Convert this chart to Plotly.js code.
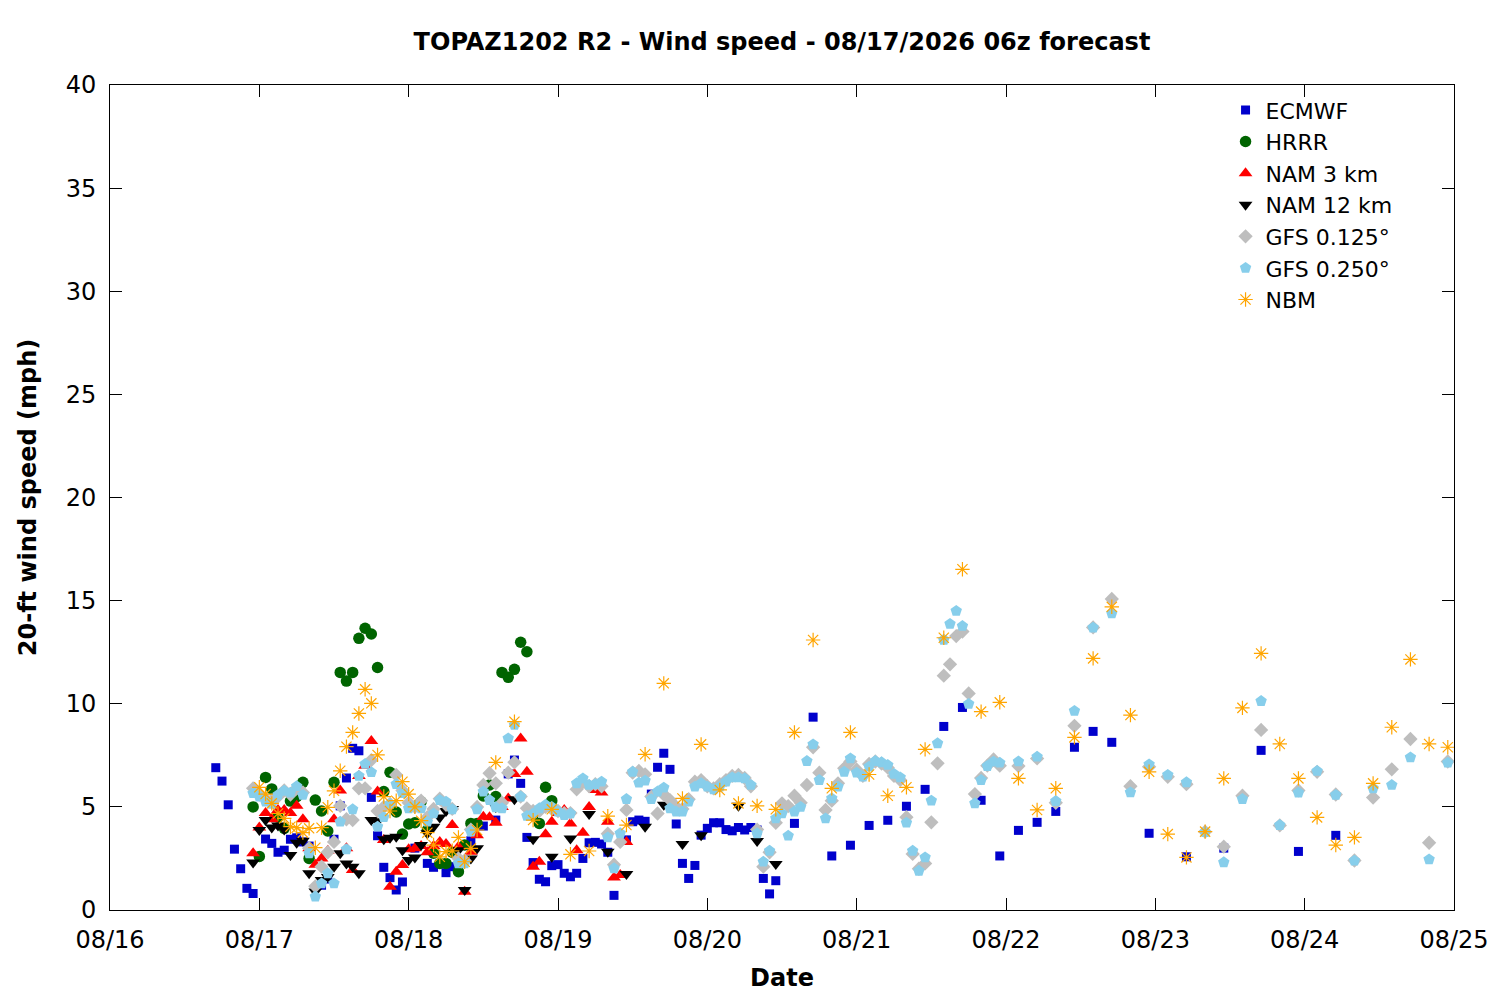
<!DOCTYPE html>
<html>
<head>
<meta charset="utf-8">
<script src="https://cdn.plot.ly/plotly-3.0.1.min.js"></script>
<style>
    body { margin: 0; background: #ffffff; }
    #plot { width: 1500px; height: 1000px; }
</style>
</head>
<body>
<div id="plot"></div>
<script>
// hours are counted from 08/16 00:00 (local), values in mph
const ecmwfHours = [
    17,18,19,20,21,22,23,25,26,27,28,29,30,31,32,34,35,36,37,38,39,40,
    42,43,44,45,46,47,49,51,52,54,55,58,60,62,
    64,65,66,67,68,69,70,71,72,73,74,75,76,77,78,79,80,81,
    83,84,85,86,87,88,89,90,91,92,93,94,95,96,97,98,99,100,101,102,103,104,105,106,107,
    110,113,116,119,122,125,128,131,134,137,140,143,146,149,152,155,158,161,
    167,173,179,185,191,197
];
const ecmwfSpeed = [
    6.9,6.25,5.1,2.95,2.0,1.05,0.8,3.44,3.23,2.8,2.9,3.43,3.5,3.3,3.1,1.2,1.5,3.43,5.05,6.4,7.84,7.72,
    5.46,3.6,2.07,1.57,0.97,1.36,3.0,2.26,2.07,1.81,2.1,3.36,4.07,4.36,
    6.6,7.27,6.14,3.52,2.3,1.49,1.37,2.15,2.2,1.78,1.61,1.78,2.5,3.26,3.28,3.2,2.8,0.71,
    3.4,4.28,4.36,4.3,5.62,6.92,7.6,6.82,4.17,2.26,1.53,2.16,3.63,3.96,4.23,4.23,3.9,3.84,4.0,3.88,4.0,3.88,1.53,0.78,1.42,
    4.2,9.35,2.62,3.14,4.1,4.35,5.03,5.85,8.9,9.82,5.32,2.62,3.86,4.25,4.78,7.89,8.66,8.13,
    3.72,2.58,3.0,7.74,2.84,3.62
];

const hrrrHours = [
    23,24,25,26,27,28,29,30,31,32,33,34,35,36,37,38,39,40,41,42,43,44,45,46,47,
    48,49,50,51,52,53,54,55,56,57,58,59,60,61,62,63,64,65,66,67,68,69,70,71
];
const hrrrSpeed = [
    5.0,2.6,6.43,5.87,4.5,3.96,5.28,5.5,6.19,2.5,5.33,4.8,3.83,6.19,11.52,11.1,11.52,13.17,13.66,13.38,11.76,5.74,6.68,4.75,3.68,
    4.17,4.23,5.25,3.88,2.75,2.26,2.26,2.8,1.86,3.15,4.2,4.2,5.53,6.06,5.5,11.52,11.28,11.67,12.98,12.52,4.6,4.2,5.95,5.3
];

const nam3Hours = [
    23,24,25,26,27,28,29,30,31,32,33,34,35,36,37,38,39,40,41,42,43,44,45,46,47,48,49,50,51,52,53,
    54,55,56,57,58,59,60,61,62,63,64,65,66,67,68,69,70,71,72,73,74,75,76,77,78,79,80,81,82,83
];
const nam3Speed = [
    2.75,4.0,4.7,4.4,4.85,4.85,4.7,5.05,4.4,3.0,2.2,2.5,2.87,4.4,5.8,3.0,1.94,6.5,7.0,8.2,5.74,3.4,1.13,1.86,2.18,2.94,3.0,3.1,2.8,3.1,3.3,
    3.2,4.12,3.07,0.89,2.82,3.63,4.52,4.5,4.23,5.0,5.41,6.6,8.32,6.7,2.1,2.34,3.67,4.28,4.7,4.85,4.2,2.9,3.75,5.0,5.82,5.7,4.28,1.58,1.7,3.3
];

const nam12Hours = [
    23,24,25,26,27,28,29,30,31,32,33,34,35,36,37,38,39,40,
    42,43,44,45,46,47,48,49,50,51,52,53,54,55,56,57,58,59,
    62,65,68,71,74,77,80,83,86,89,92,95,98,101,104,107
];
const nam12Speed = [
    2.3,3.88,4.36,4.0,4.1,3.9,2.67,3.26,3.36,1.78,0.9,1.45,1.6,2.1,2.75,2.26,2.1,1.78,
    4.36,4.3,3.43,3.5,3.55,2.9,2.42,2.55,3.15,3.72,4.04,4.49,4.8,4.9,2.9,0.97,2.5,3.0,
    5.0,5.37,3.43,2.58,3.47,4.65,2.83,1.75,4.04,5.1,3.2,3.63,6.0,5.05,3.35,2.23
];

const gfsHours = [
    23,24,25,26,27,28,29,30,31,32,33,34,35,36,37,38,39,40,41,42,
    43,44,45,46,47,48,49,50,51,52,53,54,55,56,57,58,59,60,61,62,
    63,64,65,66,67,68,69,70,71,72,73,74,75,76,77,78,79,80,81,82,
    83,84,85,86,87,88,89,90,91,92,93,94,95,96,97,98,99,100,101,102,
    103,104,105,106,107,108,109,110,111,112,113,114,115,116,117,118,119,120,121,122,
    123,124,125,126,127,128,129,130,131,132,133,134,135,136,137,138,139,140,141,142,143,
    146,149,152,155,158,161,164,167,170,173,176,179,182,185,188,191,194,197,200,203,206,209,212,215
];
const gfs0125Speed = [
    5.9,5.6,5.4,5.3,5.5,5.8,5.6,5.9,5.7,3.0,1.15,2.1,2.8,3.3,5.05,4.4,4.36,5.9,5.9,7.27,
    4.8,5.0,5.14,6.55,5.8,5.2,5.0,5.3,4.5,4.9,5.4,5.1,4.9,2.5,2.4,3.9,5.0,6.06,6.63,6.14,
    5.2,6.66,7.16,5.5,4.93,4.8,4.8,5.0,4.9,4.8,4.7,4.7,5.85,6.2,6.0,6.1,6.0,3.7,2.2,3.3,
    4.85,6.66,6.74,6.58,5.5,4.68,5.6,5.33,5.0,4.9,5.37,6.22,6.3,6.0,5.9,6.1,6.3,6.5,6.55,6.4,
    6.0,3.9,2.1,2.8,4.23,5.17,5.04,5.54,5.2,6.06,7.89,6.66,4.85,5.3,6.14,6.87,7.2,6.8,6.5,7.08,
    7.2,7.1,6.9,6.5,6.3,4.5,2.72,2.0,2.26,4.25,7.11,11.36,11.91,13.28,13.5,10.5,5.62,6.4,7.0,7.3,7.0,
    6.98,7.35,5.2,8.93,13.7,15.08,6.0,6.95,6.46,6.1,3.8,3.07,5.54,8.73,4.1,5.8,6.7,5.6,2.4,5.45,6.82,8.29,3.26,7.2
];
const gfs0250Speed = [
    5.66,5.5,5.25,5.14,5.58,5.78,5.69,6.0,5.58,2.75,0.65,1.29,1.78,1.29,4.28,2.94,4.88,6.5,7.08,6.68,
    4.04,4.5,5.14,6.1,5.66,4.93,5.04,4.93,4.28,4.68,5.33,5.25,4.88,2.26,2.26,3.8,4.88,5.74,5.33,4.98,
    4.93,8.32,8.97,5.5,4.56,4.68,4.93,5.1,5.0,4.77,4.6,4.68,6.14,6.38,6.06,6.1,6.22,3.52,2.02,3.72,
    5.38,6.7,6.17,6.27,5.37,5.74,5.93,4.93,4.77,4.77,5.25,5.98,6.14,5.98,5.85,5.98,6.22,6.43,6.43,6.38,
    6.06,3.72,2.34,2.87,4.44,4.68,3.6,4.77,5.0,7.22,8.03,6.3,4.44,5.41,5.98,6.7,7.35,6.66,6.46,6.95,
    7.22,7.16,7.03,6.6,6.43,4.23,2.87,1.9,2.55,5.3,8.08,13.1,13.87,14.5,13.77,9.99,5.17,6.3,6.98,7.19,7.14,
    7.2,7.43,5.28,9.65,13.69,14.38,5.7,7.06,6.55,6.19,3.77,2.31,5.38,10.13,4.12,5.69,6.74,5.58,2.39,5.9,6.06,7.4,2.45,7.14
];

const nbmHours = [
    24,25,26,27,28,29,30,31,32,33,34,35,36,37,38,39,40,41,
    42,43,44,45,46,47,48,49,50,51,52,53,54,55,56,57,58,59,
    62,65,68,71,74,77,80,83,86,89,92,95,98,101,104,107,110,113,
    116,119,122,125,128,131,134,137,140,143,146,149,152,155,158,161,164,167,
    170,173,176,179,182,185,188,191,194,197,200,203,206,209,212,215
];
const nbmSpeed = [
    5.95,5.62,5.17,4.68,4.44,4.04,3.99,3.75,3.96,3.02,3.99,4.98,5.78,6.75,7.92,8.61,9.53,10.7,
    10.02,7.52,5.5,4.8,5.3,6.22,5.62,5.0,4.33,3.75,3.15,2.58,2.83,2.87,3.52,2.34,2.99,3.88,
    7.16,9.13,4.36,4.88,2.7,2.86,4.55,4.12,7.55,10.99,5.41,8.03,5.82,5.17,5.05,4.88,8.61,13.09,
    5.9,8.61,6.57,5.54,5.95,7.79,13.2,16.52,9.62,10.07,6.38,4.85,5.9,8.37,12.2,14.7,9.45,6.7,
    3.68,2.55,3.8,6.38,9.8,12.44,8.05,6.38,4.49,3.15,3.52,6.14,8.86,12.15,8.05,7.89
];

const chartTitle = "TOPAZ1202 R2 - Wind speed - 08/17/2026 06z forecast";
const xLabel = "Date";
const yLabel = "20-ft wind speed (mph)";

const baseTime = Date.UTC(2026, 7, 16, 0, 0, 0);

function toDate(h){
    return new Date(baseTime + h*3600*1000)
        .toISOString()
        .slice(0,19)
        .replace("T"," ");
}

function series(name, hours, speed, symbol, color, size, extra){

    const marker = {
        symbol: symbol,
        color: color,
        size: size,
        line: {width: 0}
    };

    Object.assign(marker, extra || {});

    return {
        type: "scatter",
        mode: "markers",
        name: name,
        x: hours.map(toDate),
        y: speed,
        marker: marker
    };
}

const traces = [
    series("ECMWF", ecmwfHours, ecmwfSpeed, "square", "#0000cc", 9),
    series("HRRR", hrrrHours, hrrrSpeed, "circle", "#006400", 11.5),
    series("NAM 3 km", nam3Hours, nam3Speed, "triangle-up", "#ff0000", 12),
    series("NAM 12 km", nam12Hours, nam12Speed, "triangle-down", "#000000", 12),
    series("GFS 0.125°", gfsHours, gfs0125Speed, "diamond", "#bebebe", 11),
    series("GFS 0.250°", gfsHours, gfs0250Speed, "pentagon", "#87ceeb", 12),
    series("NBM", nbmHours, nbmSpeed, "asterisk-open", "#ffa500", 12,
        {line: {width: 1.2, color: "#ffa500"}})
];

const axisStyle = {
    showline: true,
    linecolor: "#000000",
    linewidth: 1,
    mirror: "ticks",
    ticks: "inside",
    ticklen: 12,
    tickwidth: 1,
    tickcolor: "#000000",
    showgrid: false,
    zeroline: false,
    tickfont: {size: 24, color: "#000000"}
};

const layout = {
    width: 1500,
    height: 1000,
    paper_bgcolor: "#ffffff",
    plot_bgcolor: "#ffffff",
    font: {family: "DejaVu Sans", color: "#000000"},
    margin: {l: 110, r: 46, t: 85, b: 90},
    showlegend: true,
    title: {
        text: "<b>" + chartTitle + "</b>",
        font: {size: 24},
        x: 0.5,
        xref: "paper",
        xanchor: "center",
        y: 0.958,
        yref: "container",
        yanchor: "middle"
    },
    xaxis: Object.assign({}, axisStyle, {
        type: "date",
        range: [toDate(0), toDate(216)],
        dtick: 86400000,
        tick0: toDate(0),
        tickformat: "%m/%d",
        ticklabelstandoff: 8,
        title: {text: "<b>" + xLabel + "</b>", font: {size: 24}, standoff: 16}
    }),
    yaxis: Object.assign({}, axisStyle, {
        range: [0, 40],
        dtick: 5,
        tick0: 0,
        ticklabelstandoff: 8,
        title: {text: "<b>" + yLabel + "</b>", font: {size: 24}, standoff: 22}
    }),
    legend: {
        x: 0.958,
        xanchor: "right",
        y: 0.995,
        yanchor: "top",
        bgcolor: "rgba(0,0,0,0)",
        font: {size: 22},
        tracegroupgap: 0,
        itemsizing: "trace"
    }
};

Plotly.newPlot("plot", traces, layout, {staticPlot: true});
</script>
</body>
</html>
